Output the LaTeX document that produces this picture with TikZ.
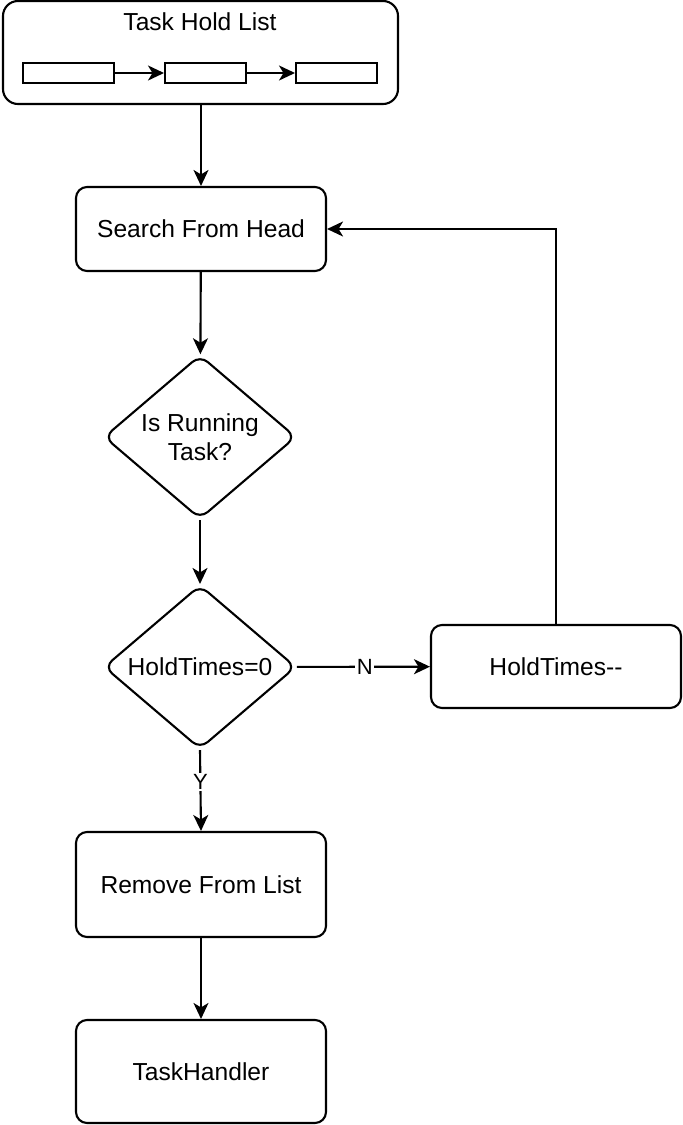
\documentclass[tikz,border=0pt]{standalone}
\usepackage{fontspec}
\setmainfont{Liberation Sans}
\usetikzlibrary{shapes.geometric,arrows.meta}
\begin{document}
\begin{tikzpicture}[x=1pt,y=-1pt,
  every node/.style={font=\fontsize{24.6}{28.5}\selectfont},
  procbox/.style={draw,line width=2.1pt,rounded corners=11pt,minimum width=250pt,inner sep=0pt},
  decide/.style={draw,line width=2.1pt,diamond,aspect=1.18,minimum width=192pt,minimum height=164pt,inner sep=0pt,rounded corners=10pt,align=center},
  cell/.style={draw,line width=2pt,minimum height=20pt,inner sep=0pt},
  arr/.style={line width=2.1pt,-{Stealth[length=16pt,width=15pt,inset=4.5pt]}},
  lbl/.style={fill=white,inner sep=1.5pt,font=\fontsize{22}{26}\selectfont}]
\useasboundingbox (0,0) rectangle (683,1125);
% container
\node[draw,line width=2.1pt,rounded corners=15pt,minimum width=395pt,minimum height=103pt,inner sep=0pt] (list) at (200.5,52.5) {};
\node (title) at (200,22) {Task Hold List};
\node[cell,minimum width=91pt] (c1) at (68.5,73) {};
\node[cell,minimum width=81pt] (c2) at (205.5,73) {};
\node[cell,minimum width=81pt] (c3) at (336.5,73) {};
\draw[arr] (c1) -- (c2);
\draw[arr] (c2) -- (c3);
% nodes
\node[procbox,minimum height=84pt] (search) at (201,229) {Search From Head};
\node[decide] (run) at (200,437) {Is Running\\Task?};
\node[decide] (hold) at (200,667) {HoldTimes=0};
\node[procbox,minimum height=83pt] (dec) at (556,666.5) {HoldTimes-{}-};
\node[procbox,minimum height=105pt] (remove) at (201,884.5) {Remove From List};
\node[procbox,minimum height=103pt] (handler) at (201,1071.5) {TaskHandler};
% edges
\draw[arr] (list.south -| search.north) -- (search.north);
\draw[arr] (search) -- (run);
\draw[arr] (run) -- (hold);
\draw[arr] (hold) -- node[lbl,pos=0.51] {N} (dec);
\draw[arr] (dec.north) |- (search.east);
\draw[arr] (hold.south) -- node[lbl,pos=0.4] {Y} (remove.north);
\draw[arr] (remove) -- (handler);
\end{tikzpicture}
\end{document}
